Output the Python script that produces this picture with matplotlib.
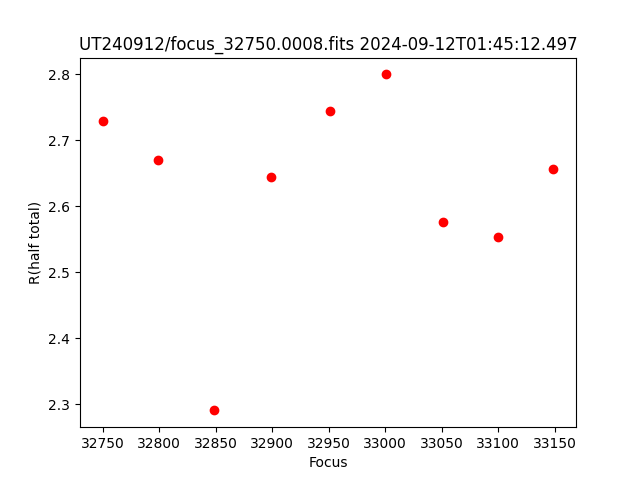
import matplotlib
matplotlib.use("Agg")
import matplotlib.pyplot as plt

focus = [32750, 32799, 32849, 32899, 32951, 33001, 33051, 33100, 33149]
r_half = [2.729, 2.671, 2.291, 2.644, 2.745, 2.800, 2.577, 2.553, 2.656]

fig, ax = plt.subplots(figsize=(6.4, 4.8), dpi=100)
ax.plot(focus, r_half, 'ro')
ax.set_xlabel('Focus')
ax.set_ylabel('R(half total)')
ax.set_title('UT240912/focus_32750.0008.fits 2024-09-12T01:45:12.497')
fig.savefig('out.png')
